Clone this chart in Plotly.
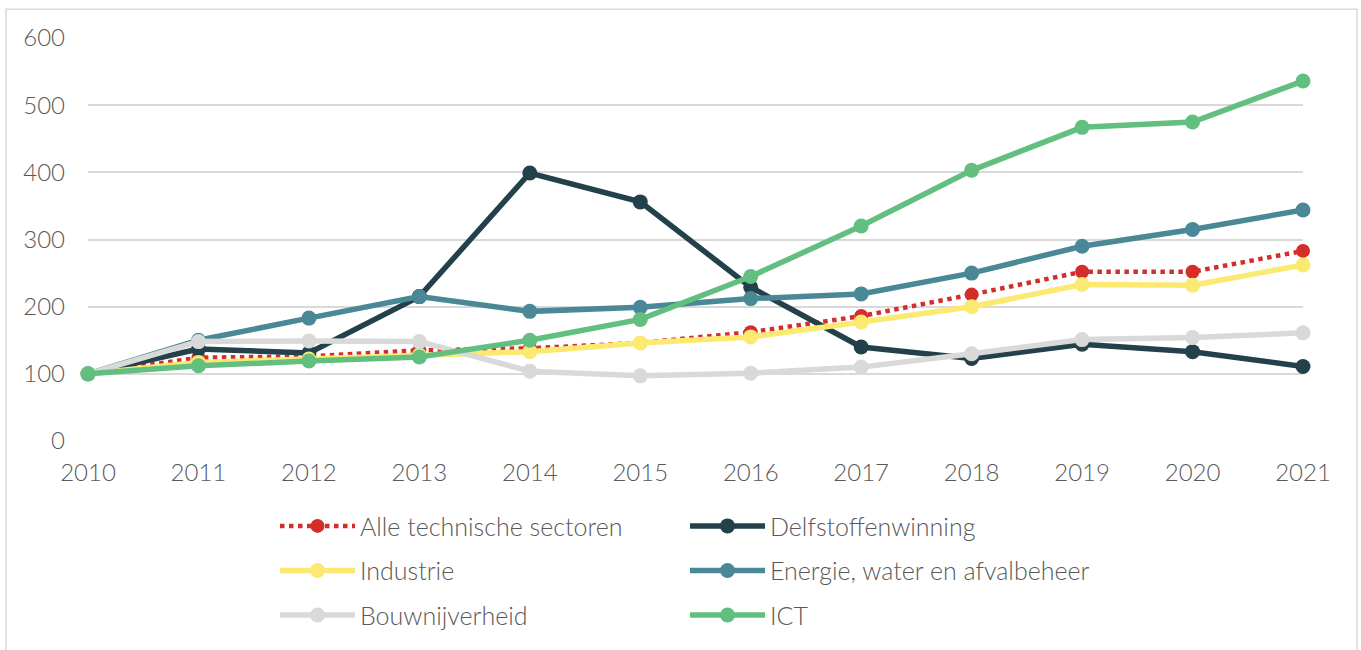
import plotly.graph_objects as go

years = [2010, 2011, 2012, 2013, 2014, 2015, 2016, 2017, 2018, 2019, 2020, 2021]

alle_technische_sectoren = [100, 124, 126, 135, 138, 146, 162, 186, 218, 252, 252, 283]
delfstoffenwinning = [100, 137, 131, 215, 399, 356, 229, 140, 123, 144, 133, 111]
industrie = [100, 117, 122, 128, 133, 146, 155, 177, 200, 233, 232, 262]
energie_water_afval = [100, 150, 183, 215, 193, 199, 212, 219, 250, 290, 315, 344]
bouwnijverheid = [100, 148, 149, 148, 104, 97, 101, 110, 130, 151, 154, 161]
ict = [100, 112, 119, 125, 150, 181, 245, 320, 403, 467, 475, 536]

y_ticks = [0, 100, 200, 300, 400, 500, 600]

series = [
    ("Alle technische sectoren", alle_technische_sectoren, "#D42E2B", "dot", 4.5, 14, "legend"),
    ("Delfstoffenwinning", delfstoffenwinning, "#23414A", "solid", 5.5, 15, "legend"),
    ("Industrie", industrie, "#FCE971", "solid", 5.5, 15, "legend2"),
    ("Energie, water en afvalbeheer", energie_water_afval, "#4A8897", "solid", 5.5, 15, "legend2"),
    ("Bouwnijverheid", bouwnijverheid, "#D9D9D9", "solid", 5.5, 15, "legend3"),
    ("ICT", ict, "#62BF7F", "solid", 5.5, 15, "legend3"),
]

fig = go.Figure()
for name, vals, color, dash, width, msize, leg in series:
    fig.add_trace(go.Scatter(
        x=years, y=vals, name=name, mode="lines+markers",
        line=dict(color=color, width=width, dash=dash),
        marker=dict(color=color, size=msize, symbol="circle"),
        cliponaxis=False, legend=leg,
    ))

font_family = "Lato, 'Open Sans', sans-serif"
tick_font = dict(family=font_family, size=24, color="#595959", weight=300)
legend_font = dict(family=font_family, size=25, color="#595959", weight=300)

# plot area spans 1215 x 407 px; legend rows sit below it
plot_h = 407.0
def row_y(px):
    return (444 - px) / plot_h

legend_common = dict(
    orientation="h", xanchor="left", yanchor="middle",
    x=(275 - 88) / 1215.0, entrywidth=320, entrywidthmode="pixels",
    font=legend_font, bgcolor="rgba(0,0,0,0)", itemwidth=75,
)

fig.update_layout(
    width=1361, height=650,
    margin=dict(l=88, r=58, t=38, b=205),
    paper_bgcolor="white", plot_bgcolor="white",
    showlegend=True,
    legend=dict(**legend_common, y=row_y(530)),
    legend2=dict(**legend_common, y=row_y(575)),
    legend3=dict(**legend_common, y=row_y(620)),
    xaxis=dict(
        range=[2010, 2021], tickmode="array", tickvals=years,
        ticktext=[str(y) for y in years], showgrid=False, zeroline=False,
        showline=False, tickfont=tick_font, ticks="", ticklabelstandoff=15,
        fixedrange=True,
    ),
    yaxis=dict(
        range=[0, 600], tickmode="array", tickvals=y_ticks,
        showgrid=True, gridcolor="#D9D9D9", gridwidth=1.5, zeroline=False,
        showline=False, tickfont=tick_font, ticks="", ticklabelstandoff=22,
        fixedrange=True,
    ),
    shapes=[dict(
        type="rect", xref="paper", yref="paper",
        x0=(6 - 88) / 1215.0, x1=(1357 - 88) / 1215.0,
        y0=row_y(700), y1=row_y(8),
        line=dict(color="#D9D9D9", width=1.5), fillcolor="rgba(0,0,0,0)",
        layer="below",
    )],
)

fig.write_html("out.html")
